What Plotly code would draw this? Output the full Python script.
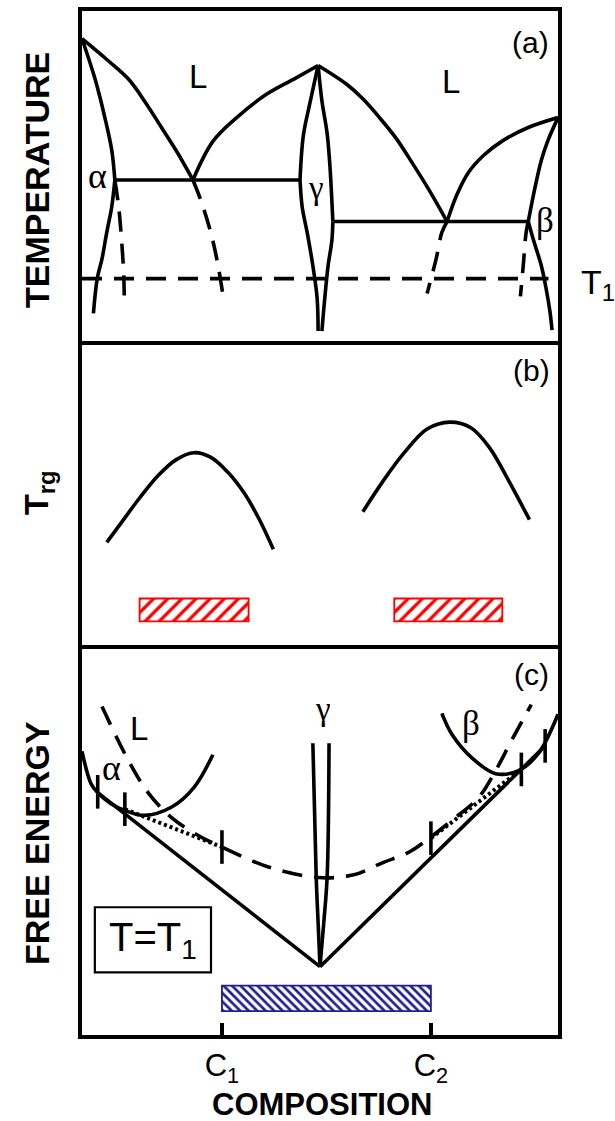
import plotly.graph_objects as go

# ---------------- panel (a): phase diagram, composition (%) vs temperature ----------------
alpha_solidus_x = [0.0, 2.7, 4.8, 6.25, 6.9]
alpha_solidus_t = [91.6, 79.6, 67.7, 57.8, 48.8]
alpha_solvus_x = [6.9, 6.25, 5.2, 4.2, 3.2, 2.4]
alpha_solvus_t = [48.8, 40.7, 32.9, 24.9, 18.9, 8.4]
alpha_meta_x = [6.9, 7.7, 8.3, 8.75, 8.9]
alpha_meta_t = [48.8, 40.7, 30.8, 20.7, 10.8]

liq_left_x = [0.0, 5.2, 9.8, 13.5, 16.7, 20.0, 23.3]
liq_left_t = [91.6, 85.3, 79.3, 71.9, 64.7, 57.2, 48.8]
liq_left_meta_x = [23.3, 25.0, 27.3, 28.75, 29.8]
liq_left_meta_t = [48.8, 42.5, 31.5, 21.5, 12.0]
liq_gamma_l_x = [23.3, 27.5, 32.5, 38.9, 44.8, 49.6]
liq_gamma_l_t = [48.8, 60.5, 67.7, 74.9, 79.6, 83.5]

gamma_lu_x = [49.6, 47.9, 46.5, 45.8]
gamma_lu_t = [83.5, 72.2, 62.3, 48.8]
gamma_ll_x = [45.8, 46.25, 47.3, 48.5, 49.4, 49.6]
gamma_ll_t = [48.8, 40.7, 32.9, 22.8, 12.9, 3.0]
gamma_ru_x = [49.6, 50.4, 51.5, 52.1, 52.7]
gamma_ru_t = [83.5, 72.8, 62.9, 52.7, 36.2]
gamma_rl_x = [52.7, 52.5, 51.7, 51.0, 50.4]
gamma_rl_t = [36.2, 30.5, 22.8, 12.9, 3.0]

eut_ag_x = [6.9, 45.8]
eut_ag_t = [48.8, 48.8]
eut_gb_x = [52.7, 93.75]
eut_gb_t = [36.2, 36.2]

liq_gamma_r_x = [49.6, 55.6, 59.0, 62.5, 66.0, 69.4, 72.9, 76.7]
liq_gamma_r_t = [83.5, 77.8, 73.4, 67.7, 61.4, 53.9, 45.8, 36.2]
liq_gamma_r_meta_x = [76.7, 75.6, 74.4, 72.5]
liq_gamma_r_meta_t = [36.2, 32.9, 24.9, 14.4]
liq_beta_x = [76.7, 78.75, 81.25, 84.4, 88.5, 93.75, 100.0]
liq_beta_t = [36.2, 44.3, 51.2, 56.3, 60.8, 64.7, 67.7]

beta_solidus_x = [100.0, 97.9, 96.5, 95.2, 93.75]
beta_solidus_t = [67.7, 60.8, 54.8, 46.7, 36.2]
beta_solvus_x = [93.75, 94.8, 96.5, 97.5, 98.3, 98.75]
beta_solvus_t = [36.2, 30.8, 22.8, 15.9, 9.0, 3.3]
beta_meta_x = [93.75, 93.3, 92.7, 92.1]
beta_meta_t = [36.2, 32.9, 22.8, 13.5]

t1_x = [0.0, 98.0]
t1_t = [18.9, 18.9]

# ---------------- panel (b): reduced glass temperature ----------------
trg_left_x = [5.2, 8.5, 12.1, 16.0, 19.8, 23.5, 27.0, 30.5, 34.0, 37.2, 40.2]
trg_left_y = [34.2, 41.3, 49.0, 56.5, 61.8, 64.1, 62.6, 57.8, 50.8, 42.0, 31.9]
trg_right_x = [59.0, 63.1, 67.7, 72.5, 77.3, 81.7, 85.6, 89.8, 94.0]
trg_right_y = [44.4, 54.3, 64.1, 72.0, 74.3, 72.4, 65.8, 54.3, 41.8]

glass_trg_x0 = [12.1, 65.6]
glass_trg_x1 = [35.0, 88.3]
glass_trg_band = [7.9, 15.5]

# ---------------- panel (c): free energy curves at T = T1 ----------------
alpha_g_x = [0.0, 1.9, 3.3, 6.0, 9.0, 13.1, 18.75, 23.5, 27.5]
alpha_g_y = [73.5, 65.1, 62.8, 60.0, 58.2, 56.9, 59.0, 64.1, 72.6]
liquid_g_x = [4.2, 9.8, 14.0, 18.75, 25.0, 29.4, 39.0, 49.6, 57.1, 63.1, 68.75, 73.3,
              77.7, 83.3, 86.9, 90.2, 94.4]
liquid_g_y = [85.1, 71.0, 62.6, 56.4, 51.3, 48.7, 43.6, 40.8, 41.5, 44.6, 47.4, 51.3,
              55.6, 61.5, 68.5, 76.2, 85.6]
beta_g_x = [75.6, 77.7, 81.9, 86.9, 91.7, 95.8, 100.0]
beta_g_y = [83.3, 77.9, 71.8, 67.7, 68.5, 72.8, 83.1]
gamma_g_left_x = [48.5, 49.2, 49.6, 50.0]
gamma_g_right_x = [51.9, 51.5, 50.8, 50.0]
gamma_g_y = [75.6, 41.0, 29.2, 17.7]

tangent_left_x = [3.3, 50.0]
tangent_left_y = [62.8, 17.7]
tangent_right_x = [50.0, 97.3]
tangent_right_y = [17.7, 74.9]
dotted_left_x = [9.0, 29.4]
dotted_left_y = [58.5, 48.7]
dotted_right_x = [73.3, 92.3]
dotted_right_y = [51.0, 68.8]
tick_x = [3.3, 9.0, 29.4, 73.3, 92.3, 97.3]
tick_y = [63.0, 58.5, 48.7, 51.0, 68.8, 74.9]

C1, C2 = 29.4, 73.3
glass_g_band = [6.2, 12.8]
t_box_x = [2.7, 27.1]
t_box_y = [16.2, 33.1]

SANS = "Liberation Sans, Arial, sans-serif"
SERIF = "Liberation Serif, Times New Roman, serif"

fig = go.Figure()


def curve(x, y, ax, dash="solid", width=3.6, shape="spline"):
    xa, ya = ax
    fig.add_trace(go.Scatter(
        x=x, y=y, mode="lines", xaxis=xa, yaxis=ya, showlegend=False, hoverinfo="skip",
        line=dict(color="black", width=width, dash=dash, shape=shape, smoothing=1.0)))


A = ("x", "y")
B = ("x2", "y2")
C = ("x3", "y3")
DASH = "20px,12px"

# panel (a)
curve(alpha_solidus_x, alpha_solidus_t, A)
curve(alpha_solvus_x, alpha_solvus_t, A)
curve(alpha_meta_x, alpha_meta_t, A, dash=DASH)
curve(liq_left_x, liq_left_t, A)
curve(liq_left_meta_x, liq_left_meta_t, A, dash=DASH)
curve(liq_gamma_l_x, liq_gamma_l_t, A)
curve(gamma_lu_x, gamma_lu_t, A)
curve(gamma_ll_x, gamma_ll_t, A)
curve(gamma_ru_x, gamma_ru_t, A)
curve(gamma_rl_x, gamma_rl_t, A)
curve(eut_ag_x, eut_ag_t, A, shape="linear")
curve(eut_gb_x, eut_gb_t, A, shape="linear")
curve(liq_gamma_r_x, liq_gamma_r_t, A)
curve(liq_gamma_r_meta_x, liq_gamma_r_meta_t, A, dash=DASH)
curve(liq_beta_x, liq_beta_t, A)
curve(beta_solidus_x, beta_solidus_t, A)
curve(beta_solvus_x, beta_solvus_t, A)
curve(beta_meta_x, beta_meta_t, A, dash=DASH)
curve(t1_x, t1_t, A, dash=DASH, shape="linear")

# panel (b)
curve(trg_left_x, trg_left_y, B)
curve(trg_right_x, trg_right_y, B)
fig.add_trace(go.Bar(
    orientation="h", xaxis="x2", yaxis="y2", showlegend=False, hoverinfo="skip",
    y=[(glass_trg_band[0] + glass_trg_band[1]) / 2] * 2,
    base=glass_trg_x0,
    x=[b - a for a, b in zip(glass_trg_x0, glass_trg_x1)],
    width=glass_trg_band[1] - glass_trg_band[0],
    marker=dict(color="white", line=dict(color="#ff0000", width=1.8),
                pattern=dict(shape="/", fgcolor="#ff0000", bgcolor="white",
                             size=10, solidity=0.32, fillmode="replace"))))

# panel (c)
curve(alpha_g_x, alpha_g_y, C)
curve(liquid_g_x, liquid_g_y, C, dash=DASH)
curve(beta_g_x, beta_g_y, C)
curve(gamma_g_left_x, gamma_g_y, C)
curve(gamma_g_right_x, gamma_g_y, C)
curve(tangent_left_x, tangent_left_y, C, shape="linear")
curve(tangent_right_x, tangent_right_y, C, shape="linear")
curve(dotted_left_x, dotted_left_y, C, dash="3px,3px", width=4, shape="linear")
curve(dotted_right_x, dotted_right_y, C, dash="3px,3px", width=4, shape="linear")
fig.add_trace(go.Scatter(
    x=tick_x, y=tick_y, mode="markers", xaxis="x3", yaxis="y3", showlegend=False,
    hoverinfo="skip",
    marker=dict(symbol="line-ns", size=24, color="black",
                line=dict(color="black", width=3.6))))
fig.add_trace(go.Bar(
    orientation="h", xaxis="x3", yaxis="y3", showlegend=False, hoverinfo="skip",
    y=[(glass_g_band[0] + glass_g_band[1]) / 2],
    base=[C1], x=[C2 - C1],
    width=glass_g_band[1] - glass_g_band[0],
    marker=dict(color="white", line=dict(color="#1f1f8f", width=1.8),
                pattern=dict(shape="\\", fgcolor="#1f1f8f", bgcolor="white",
                             size=6, solidity=0.45, fillmode="replace"))))

fig.add_shape(type="rect", xref="x3", yref="y3",
              x0=t_box_x[0], x1=t_box_x[1], y0=t_box_y[0], y1=t_box_y[1],
              line=dict(color="black", width=2.2), fillcolor="rgba(0,0,0,0)")

# layout: three stacked boxed panels sharing the composition scale.
# Axis lines sit outside the plotting area, so neighbouring panels are
# separated by one line width to let their borders coincide.
W, H = 615, 1121
XDOM = [82 / W, 558 / W]
frame = dict(showline=True, linecolor="black", linewidth=4, mirror=True,
             showgrid=False, zeroline=False, ticks="", showticklabels=False,
             range=[0, 100], fixedrange=True)

fig.update_layout(
    width=W, height=H,
    margin=dict(l=0, r=0, t=0, b=0),
    paper_bgcolor="white", plot_bgcolor="white",
    barmode="overlay",
    font=dict(family=SANS, color="black"),
    xaxis=dict(frame, domain=XDOM, anchor="y"),
    yaxis=dict(frame, domain=[1 - 341 / H, 1 - 11 / H], anchor="x"),
    xaxis2=dict(frame, domain=XDOM, anchor="y2"),
    yaxis2=dict(frame, domain=[1 - 645 / H, 1 - 345 / H], anchor="x2"),
    xaxis3=dict(frame, domain=XDOM, anchor="y3",
                ticks="inside", ticklen=12, tickwidth=3.5, tickcolor="black",
                showticklabels=True, tickvals=[C1, C2],
                ticktext=["C<sub>1</sub>", "C<sub>2</sub>"],
                tickfont=dict(family=SANS, size=31, color="black")),
    yaxis3=dict(frame, domain=[1 - 1035 / H, 1 - 649 / H], anchor="x3"),
)


def label(text, x, y, xref, yref, size=30, family=SANS, xanchor="center", **kw):
    fig.add_annotation(text=text, x=x, y=y, xref=xref, yref=yref, showarrow=False,
                       xanchor=xanchor, yanchor="middle",
                       font=dict(family=family, size=size, color="black"), **kw)


# panel (a) labels
label("L", 24.4, 80.2, "x", "y", size=33)
label("L", 77.5, 78.7, "x", "y", size=33)
label("α", 3.2, 50.0, "x", "y", size=36, family=SERIF)
label("γ", 49.2, 46.5, "x", "y", size=33, family=SERIF)
label("β", 97.2, 36.5, "x", "y", size=35, family=SERIF)
label("(a)", 94.2, 90.4, "x", "y", size=30)
label("T<sub>1</sub>", 579 / W, 17.0, "paper", "y", size=34, xanchor="left")

# panel (b) labels
label("(b)", 94.4, 91.4, "x2", "y2", size=30)

# panel (c) labels
label("(c)", 94.4, 93.3, "x3", "y3", size=30)
label("L", 11.9, 79.3, "x3", "y3", size=33)
label("α", 6.3, 69.2, "x3", "y3", size=36, family=SERIF)
label("β", 81.7, 80.8, "x3", "y3", size=35, family=SERIF)
label("γ", 50.6, 84.5, "x3", "y3", size=33, family=SERIF)
label("T=T<sub>1</sub>", (t_box_x[0] + t_box_x[1]) / 2, (t_box_y[0] + t_box_y[1]) / 2,
      "x3", "y3", size=40)

# axis titles
label("<b>TEMPERATURE</b>", 37 / W, 1 - 180 / H, "paper", "paper", size=34,
      textangle=-90)
label("<b>T<sub>rg</sub></b>", 38 / W, 1 - 493 / H, "paper", "paper", size=34,
      textangle=-90)
label("<b>FREE ENERGY</b>", 37 / W, 1 - 843 / H, "paper", "paper", size=34,
      textangle=-90)
label("<b>COMPOSITION</b>", 322 / W, 1 - 1104 / H, "paper", "paper", size=31)

fig.write_html("out.html")
